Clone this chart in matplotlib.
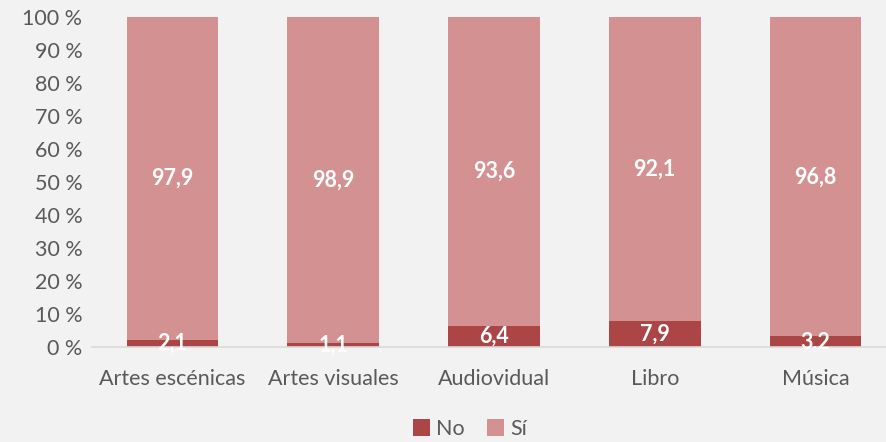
import matplotlib
matplotlib.use('Agg')
import matplotlib.pyplot as plt
import numpy as np

categories = ['Artes escénicas', 'Artes visuales', 'Audiovidual', 'Libro', 'Música']
no_vals = [2.1, 1.1, 6.4, 7.9, 3.2]
si_vals = [97.9, 98.9, 93.6, 92.1, 96.8]
yticks = [0, 10, 20, 30, 40, 50, 60, 70, 80, 90, 100]

c_no = '#ac4646'
c_si = '#d39191'
bg = '#f2f2f2'
txt = '#595959'
fs = 15.5

plt.rcParams['font.family'] = ['Lato', 'DejaVu Sans']

fig = plt.figure(figsize=(8.86, 4.42), dpi=100, facecolor=bg)
W, H = 886, 442
ax = fig.add_axes([92 / W, (H - 347) / H, 804 / W, 330 / H])
ax.set_facecolor(bg)

x = np.arange(len(categories))
bw = 0.57
b1 = ax.bar(x, no_vals, bw, color=c_no, label='No')
b2 = ax.bar(x, si_vals, bw, bottom=no_vals, color=c_si, label='Sí')

for i in range(len(categories)):
    ax.text(x[i], no_vals[i] / 2, f'{no_vals[i]:.1f}'.replace('.', ','),
            ha='center', va='center', color='white', fontsize=fs, fontweight='bold')
    ax.text(x[i], no_vals[i] + si_vals[i] / 2, f'{si_vals[i]:.1f}'.replace('.', ','),
            ha='center', va='center', color='white', fontsize=fs, fontweight='bold')

ax.set_xlim(-0.5, len(categories) - 0.5)
ax.set_ylim(0, 100)
ax.set_yticks(yticks)
ax.set_yticklabels([f'{t} %' for t in yticks])
ax.set_xticks(x)
ax.set_xticklabels(categories)
ax.tick_params(axis='both', length=0, colors=txt, labelsize=fs)
ax.tick_params(axis='x', pad=16)
ax.tick_params(axis='y', pad=7)
for s in ['top', 'right', 'left']:
    ax.spines[s].set_visible(False)
ax.spines['bottom'].set_color('#d9d9d9')
ax.spines['bottom'].set_linewidth(1.2)

leg = fig.legend(handles=[b1, b2], loc='center', bbox_to_anchor=(470 / W, 1 - 429 / H),
                 ncol=2, frameon=False, fontsize=fs, handlelength=0.8, handleheight=0.8,
                 handletextpad=0.3, columnspacing=1.0)
for t in leg.get_texts():
    t.set_color(txt)

fig.savefig('out.png', dpi=100, facecolor=bg)
